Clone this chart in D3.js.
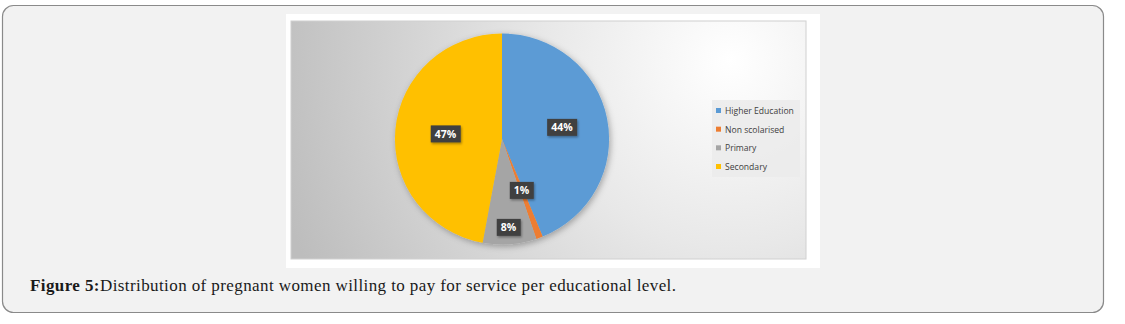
<!DOCTYPE html>
<html><head><meta charset="utf-8">
<script src="https://cdn.jsdelivr.net/npm/d3@7"></script>
<style>html,body{margin:0;padding:0;background:#fff;}svg{display:block;}</style>
</head><body>
<svg id="c" width="1125" height="324"></svg>
<script>
const categories = ["Higher Education", "Non scolarised", "Primary", "Secondary"];
const values = [43.8, 1.0, 8.1, 47.1];
const labels = ["44%", "1%", "8%", "47%"];
const colors = ["#5b9bd5", "#ed7d31", "#a5a5a5", "#ffc000"];
const labelRadiusFrac = [0.57, 0.52, 0.84, 0.53];

const svg = d3.select("#c");
const defs = svg.append("defs");

// outer frame
svg.append("rect").attr("x",2.5).attr("y",5.5).attr("width",1101).attr("height",307)
  .attr("rx",11).attr("fill","#f2f2f2").attr("stroke","#8a8a8a").attr("stroke-width",1.2);

// white image area
svg.append("rect").attr("x",286).attr("y",14).attr("width",534).attr("height",254).attr("fill","#ffffff");

// chart background gradient
const rg = defs.append("radialGradient").attr("id","bg")
  .attr("gradientUnits","userSpaceOnUse").attr("cx",730).attr("cy",60).attr("r",470);
rg.append("stop").attr("offset","0%").attr("stop-color","#ffffff");
rg.append("stop").attr("offset","40%").attr("stop-color","#e8e8e8");
rg.append("stop").attr("offset","100%").attr("stop-color","#bdbdbd");
svg.append("rect").attr("x",291).attr("y",21).attr("width",515).attr("height",238)
  .attr("fill","url(#bg)").attr("stroke","#d0d0d0").attr("stroke-width",1);

// shadows
const sh = defs.append("filter").attr("id","sh").attr("x","-20%").attr("y","-20%").attr("width","140%").attr("height","140%");
sh.append("feDropShadow").attr("dx",1.5).attr("dy",2).attr("stdDeviation",3).attr("flood-color","#000").attr("flood-opacity",0.3);
const sh2 = defs.append("filter").attr("id","sh2").attr("x","-30%").attr("y","-30%").attr("width","160%").attr("height","160%");
sh2.append("feDropShadow").attr("dx",1).attr("dy",1.5).attr("stdDeviation",1.2).attr("flood-color","#000").attr("flood-opacity",0.35);

const cx = 502, cy = 139, R = 105.5;
const pie = d3.pie().sort(null).value(d => d)(values);
const arc = d3.arc().innerRadius(0).outerRadius(R);

const g = svg.append("g").attr("transform",`translate(${cx},${cy}) scale(1.015,1)`);
g.append("g").attr("filter","url(#sh)").selectAll("path").data(pie).join("path")
  .attr("d", arc).attr("fill",(d,i)=>colors[i]);

// labels
const lg = svg.append("g").attr("transform",`translate(${cx},${cy})`);
pie.forEach((d,i) => {
  const a = (d.startAngle + d.endAngle)/2;
  const r = R*labelRadiusFrac[i];
  const x = Math.sin(a)*r*1.015, y = -Math.cos(a)*r;
  const t = lg.append("text").attr("x",x).attr("y",y+3.8).attr("text-anchor","middle")
    .attr("font-family","'Open Sans', 'DejaVu Sans', sans-serif").attr("font-weight","bold")
    .attr("font-size",10.5).attr("fill","#ffffff").text(labels[i]);
  const bb = t.node().getBBox();
  lg.insert("rect", () => t.node()).attr("x",bb.x-4).attr("y",y-8.5).attr("width",bb.width+8).attr("height",17)
    .attr("fill","#404040").attr("filter","url(#sh2)");
});

// legend
const legG = svg.append("g");
legG.append("rect").attr("x",712).attr("y",100).attr("width",88).attr("height",77).attr("fill","#ebebeb").attr("opacity",0.85);
const ly = d3.scalePoint().domain(categories).range([111,167]);
categories.forEach((c,i) => {
  legG.append("rect").attr("x",716).attr("y",ly(c)-3).attr("width",5).attr("height",5).attr("fill",colors[i]);
  legG.append("text").attr("x",725).attr("y",ly(c)+3).attr("font-family","'Open Sans', 'DejaVu Sans', sans-serif")
    .attr("font-size",8.6).attr("fill","#404040").text(c);
});

// caption
const cap = svg.append("text").attr("x",30).attr("y",291)
  .attr("font-family","'Liberation Serif', serif").attr("font-size",17).attr("fill","#1a1a1a")
  .attr("textLength",646).attr("lengthAdjust","spacing");
cap.append("tspan").attr("font-weight","bold").text("Figure 5:");
cap.append("tspan").text("Distribution of pregnant women willing to pay for service per educational level.");
</script>
</body></html>
